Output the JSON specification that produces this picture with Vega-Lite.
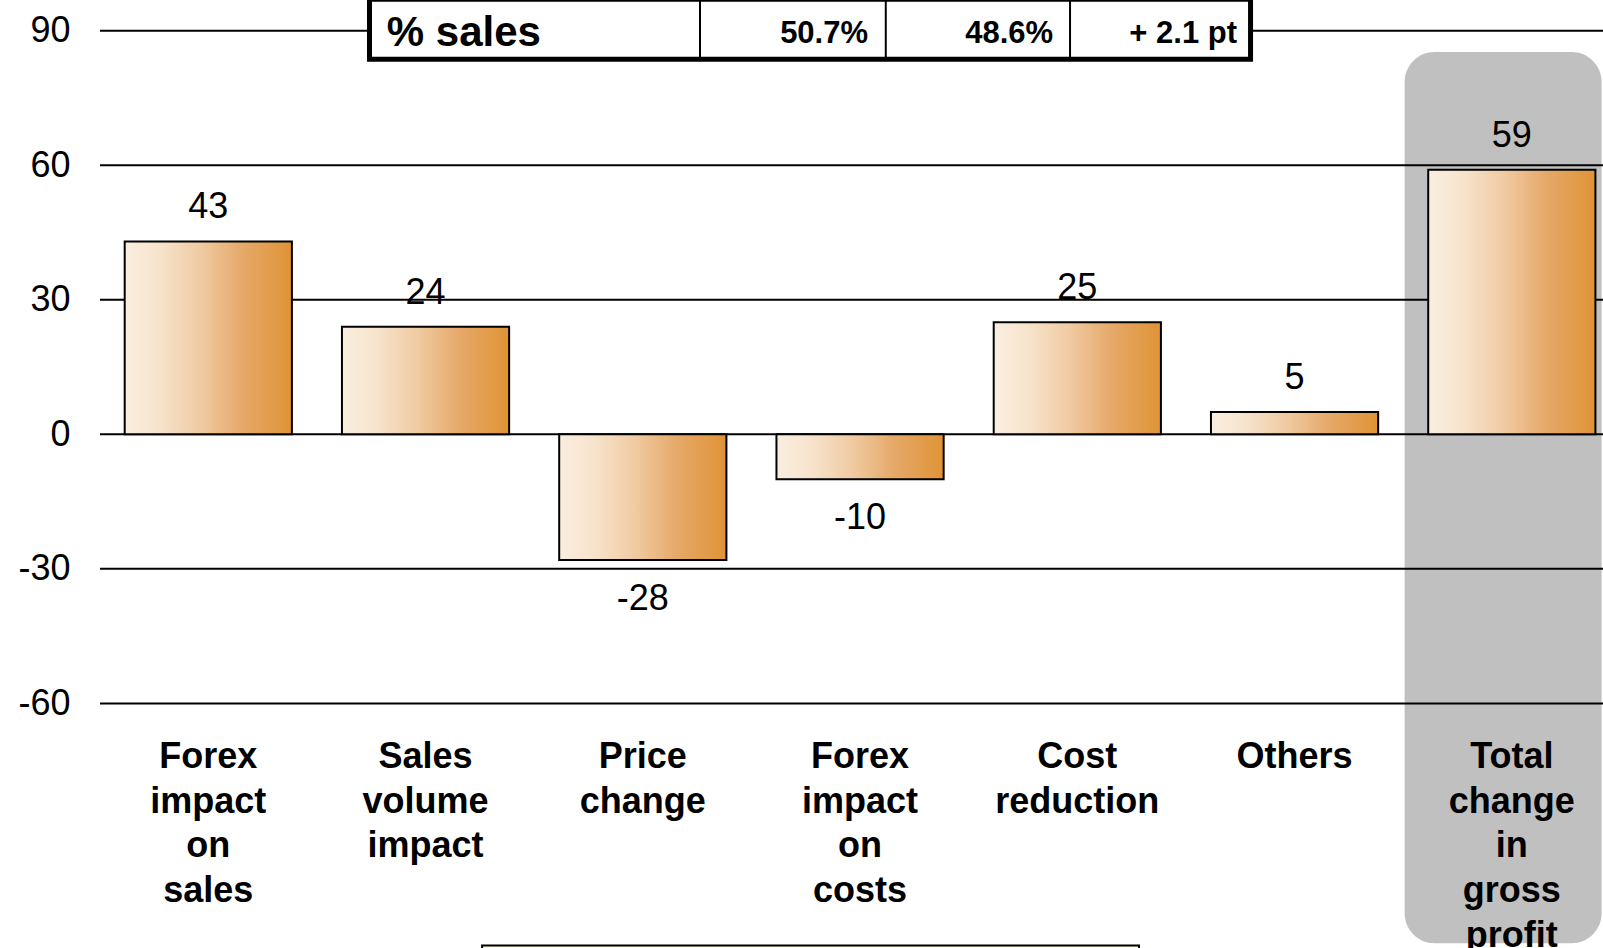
{
  "$schema": "https://vega.github.io/schema/vega-lite/v6.json",
  "width": 1503,
  "height": 672.7,
  "autosize": {"type": "none"},
  "padding": {"left": 100, "top": 30.7, "right": 0, "bottom": 244.6},
  "background": "white",
  "config": {
    "view": {"stroke": null},
    "font": "Liberation Sans",
    "axisY": {"domain": false, "ticks": false, "tickSize": 0, "grid": false, "labelFontSize": 36, "labelColor": "black", "labelPadding": 30, "labelFont": "Liberation Sans", "title": null},
    "axisX": {"domain": false, "ticks": false, "tickSize": 0, "grid": false, "labelFontSize": 36, "labelFontWeight": "bold", "labelColor": "black", "labelPadding": 36, "labelAngle": 0, "labelBaseline": "top", "labelLineHeight": 44.7, "labelOverlap": false, "labelLimit": 0, "labelFont": "Liberation Sans", "title": null}
  },
  "datasets": {
    "impacts": [
      {"category": "Forex impact on sales", "value": 43},
      {"category": "Sales volume impact", "value": 24},
      {"category": "Price change", "value": -28},
      {"category": "Forex impact on costs", "value": -10},
      {"category": "Cost reduction", "value": 25},
      {"category": "Others", "value": 5},
      {"category": "Total change in gross profit", "value": 59}
    ],
    "ticks": [{"v": -60}, {"v": -30}, {"v": 0}, {"v": 30}, {"v": 60}, {"v": 90}],
    "table": [{"metric": "% sales", "current": "50.7%", "previous": "48.6%", "change": "+ 2.1 pt"}]
  },
  "resolve": {"scale": {"x": "independent"}},
  "layer": [
    {
      "layer": [
        {
          "data": {"values": [{"highlight": "total"}]},
          "mark": {"type": "bar", "width": 197, "xOffset": -8.7, "cornerRadius": 30, "color": "#c0c0c0"},
          "encoding": {
            "x": {"datum": "Total change in gross profit", "type": "nominal"},
            "y": {"datum": 85.27, "type": "quantitative"},
            "y2": {"datum": -113.5}
          }
        },
        {
          "data": {"name": "ticks"},
          "mark": {"type": "rule", "color": "black", "strokeWidth": 2},
          "encoding": {
            "y": {"field": "v", "type": "quantitative", "scale": {"domain": [-60, 90], "nice": false, "zero": false}, "axis": {"values": [-60, -30, 0, 30, 60, 90], "labelExpr": "toString(datum.value)"}}
          }
        },
        {
          "data": {"name": "impacts"},
          "mark": {
            "type": "bar",
            "stroke": "black",
            "strokeWidth": 2,
            "fill": {"gradient": "linear", "x1": 0, "y1": 0, "x2": 1, "y2": 0,
              "stops": [
                {"offset": 0, "color": "#faeedf"},
                {"offset": 0.2, "color": "#f7e4cd"},
                {"offset": 0.45, "color": "#f0cba3"},
                {"offset": 0.7, "color": "#e6a96a"},
                {"offset": 1, "color": "#df9335"}
              ]}
          },
          "encoding": {
            "x": {
              "field": "category", "type": "nominal", "sort": null,
              "scale": {
                "domain": ["Forex impact on sales", "Sales volume impact", "Price change", "Forex impact on costs", "Cost reduction", "Others", "Total change in gross profit"],
                "paddingInner": 0.2304, "paddingOuter": 0.0743, "align": 0.765, "round": false
              },
              "axis": {"labelExpr": "split(datum.label, ' ')", "zindex": 1}
            },
            "y": {"field": "value", "type": "quantitative"}
          }
        },
        {
          "data": {"name": "impacts"},
          "transform": [{"filter": "datum.value >= 0"}],
          "mark": {"type": "text", "fontSize": 36, "color": "black", "baseline": "alphabetic", "dy": -23},
          "encoding": {
            "x": {"field": "category", "type": "nominal", "sort": null},
            "y": {"field": "value", "type": "quantitative"},
            "text": {"field": "value", "type": "nominal"}
          }
        },
        {
          "data": {"name": "impacts"},
          "transform": [{"filter": "datum.value < 0"}],
          "mark": {"type": "text", "fontSize": 36, "color": "black", "baseline": "alphabetic", "dy": 50},
          "encoding": {
            "x": {"field": "category", "type": "nominal", "sort": null},
            "y": {"field": "value", "type": "quantitative"},
            "text": {"field": "value", "type": "nominal"}
          }
        }
      ]
    },
    {
      "data": {"name": "table"},
      "layer": [
        {
          "mark": {"type": "rect", "fill": "#ffffd6", "stroke": "black", "strokeWidth": 2},
          "encoding": {
            "x": {"datum": 25.42, "type": "quantitative", "scale": {"domain": [0, 100], "nice": false, "zero": false}, "axis": null},
            "x2": {"datum": 69.13},
            "y": {"datum": -113.97, "type": "quantitative"},
            "y2": {"datum": -140}
          }
        },
        {
          "mark": {"type": "rect", "fill": "white", "stroke": "black", "strokeWidth": 5},
          "encoding": {
            "x": {"datum": 17.93, "type": "quantitative", "axis": null},
            "x2": {"datum": 76.55},
            "y": {"datum": 97.0, "type": "quantitative"},
            "y2": {"datum": 83.62}
          }
        },
        {
          "mark": {"type": "rule", "color": "black", "strokeWidth": 2},
          "encoding": {
            "x": {"datum": 39.92, "type": "quantitative", "axis": null},
            "y": {"datum": 97.0, "type": "quantitative"},
            "y2": {"datum": 83.62}
          }
        },
        {
          "mark": {"type": "rule", "color": "black", "strokeWidth": 2},
          "encoding": {
            "x": {"datum": 52.28, "type": "quantitative", "axis": null},
            "y": {"datum": 97.0, "type": "quantitative"},
            "y2": {"datum": 83.62}
          }
        },
        {
          "mark": {"type": "rule", "color": "black", "strokeWidth": 2},
          "encoding": {
            "x": {"datum": 64.54, "type": "quantitative", "axis": null},
            "y": {"datum": 97.0, "type": "quantitative"},
            "y2": {"datum": 83.62}
          }
        },
        {
          "mark": {"type": "text", "fontSize": 42, "fontWeight": "bold", "align": "left", "baseline": "alphabetic", "color": "black"},
          "encoding": {
            "x": {"datum": 19.08, "type": "quantitative", "axis": null},
            "y": {"datum": 86.63, "type": "quantitative"},
            "text": {"field": "metric"}
          }
        },
        {
          "mark": {"type": "text", "fontSize": 31, "fontWeight": "bold", "align": "right", "baseline": "alphabetic", "color": "black"},
          "encoding": {
            "x": {"datum": 51.10, "type": "quantitative", "axis": null},
            "y": {"datum": 87.3, "type": "quantitative"},
            "text": {"field": "current"}
          }
        },
        {
          "mark": {"type": "text", "fontSize": 31, "fontWeight": "bold", "align": "right", "baseline": "alphabetic", "color": "black"},
          "encoding": {
            "x": {"datum": 63.41, "type": "quantitative", "axis": null},
            "y": {"datum": 87.3, "type": "quantitative"},
            "text": {"field": "previous"}
          }
        },
        {
          "mark": {"type": "text", "fontSize": 31, "fontWeight": "bold", "align": "right", "baseline": "alphabetic", "color": "black"},
          "encoding": {
            "x": {"datum": 75.65, "type": "quantitative", "axis": null},
            "y": {"datum": 87.3, "type": "quantitative"},
            "text": {"field": "change"}
          }
        }
      ]
    }
  ]
}
